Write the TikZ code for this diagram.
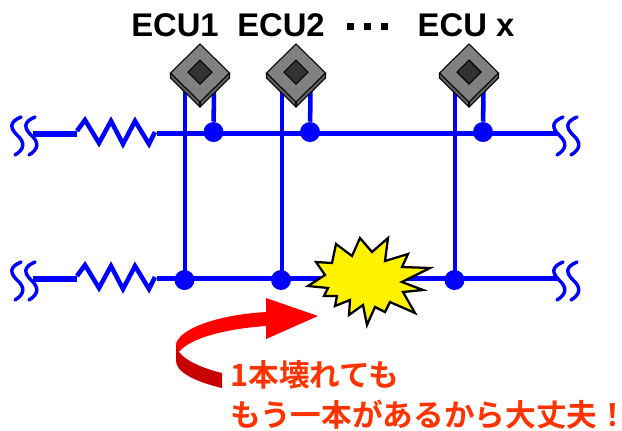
\documentclass[tikz,border=0pt]{standalone}
\usepackage{fontspec}
\setmainfont{Liberation Sans}
\newfontfamily\cjkjp{Noto Sans CJK JP}[BoldFont={Noto Sans CJK JP Bold}]
\usetikzlibrary{calc}
\definecolor{busblue}{RGB}{0,0,255}
\definecolor{chipgray}{RGB}{128,128,128}
\definecolor{chipside}{RGB}{95,95,95}
\definecolor{chipcore}{RGB}{51,51,51}
\definecolor{msgred}{RGB}{255,51,0}
\tikzset{
  bus/.style={draw=busblue,line width=3.8pt},
  stub/.style={draw=busblue,line width=3.4pt},
  breakmark/.style={draw=busblue,line width=2.6pt,line cap=round},
  junction/.style={circle,fill=busblue,minimum size=15pt,inner sep=0pt},
  ecutext/.style={font=\fontsize{24.6}{25}\selectfont\bfseries,inner sep=0pt,anchor=base},
  msg/.style={font=\cjkjp\fontsize{23}{24}\selectfont\bfseries,text=msgred,inner sep=0pt,anchor=base west},
  chipline/.style={draw=black,line width=0.8pt,line join=miter},
}
\newcommand{\breakpair}[2]{%
  \draw[breakmark] (#1+8,#2-17) .. controls (#1-4,#2-12) and (#1-3,#2-6) .. (#1+4,#2+1) .. controls (#1+12,#2+8) and (#1+12,#2+15) .. (#1+2,#2+21);
  \draw[breakmark] (#1+22,#2-17) .. controls (#1+10,#2-12) and (#1+11,#2-6) .. (#1+18,#2+1) .. controls (#1+26,#2+8) and (#1+26,#2+15) .. (#1+16,#2+21);
}
\newcommand{\zigzag}[1]{%
  \draw[bus,line width=3.4pt,line join=miter] (77,#1-3) -- (85,#1-14) -- (99,#1+9) -- (111,#1-13) -- (123,#1+10) -- (135,#1-13) -- (149,#1+10) -- (155,#1-2);
}
\newcommand{\chip}[2]{%
  \fill[chipside] (#1-29.5,#2) -- (#1,#2+29) -- (#1+29.5,#2) -- (#1+29.5,#2+5) -- (#1,#2+34) -- (#1-29.5,#2+5) -- cycle;
  \draw[chipline] (#1-29.5,#2) -- (#1-29.5,#2+5) -- (#1,#2+34) -- (#1+29.5,#2+5) -- (#1+29.5,#2);
  \draw[chipline] (#1,#2+29) -- (#1,#2+34);
  \draw[chipline,fill=chipgray] (#1-29.5,#2) -- (#1,#2-29) -- (#1+29.5,#2) -- (#1,#2+29) -- cycle;
  \draw[chipline,fill=chipcore] (#1-12,#2-1) -- (#1,#2-13) -- (#1+12,#2-1) -- (#1,#2+11) -- cycle;
}
\begin{document}
\begin{tikzpicture}[x=0.75pt,y=-0.75pt]
\useasboundingbox (0,0) rectangle (622,430);
% named points on the two buses
\coordinate (tl) at (33,134);
\coordinate (tr1) at (77,134);
\coordinate (tr2) at (157,133.5);
\coordinate (te) at (557,133.5);
\coordinate (bl) at (33,279);
\coordinate (br1) at (77,279);
\coordinate (br2) at (157,278.5);
\coordinate (be) at (557,278.5);
\coordinate (c1) at (185,90);
\coordinate (c2) at (282,90);
\coordinate (c3) at (455,90);
\coordinate (s1) at (214,90);
\coordinate (s2) at (310.5,90);
\coordinate (s3) at (483.5,90);
\node[junction] (j1) at (213.5,132) {};
\node[junction] (j2) at (310,132) {};
\node[junction] (j3) at (483,132) {};
\node[junction] (k1) at (184.5,280) {};
\node[junction] (k2) at (281,280) {};
\node[junction] (k3) at (454.5,280) {};
% wires
\draw[bus] (tl) -- (tr1);
\draw[bus] (tr2) -- (te);
\draw[bus] (bl) -- (br1);
\draw[bus] (br2) -- (be);
\draw[stub] (c1) -- (c1 |- k1);
\draw[stub] (c2) -- (c2 |- k2);
\draw[stub] (c3) -- (c3 |- k3);
\draw[stub] (s1) -- (j1);
\draw[stub] (s2) -- (j2);
\draw[stub] (s3) -- (j3);
\zigzag{134}
\zigzag{279}
\breakpair{13}{134}
\breakpair{13}{279}
\breakpair{555}{134}
\breakpair{555}{279}
% ECUs
\chip{200}{73}
\chip{296}{73}
\chip{469}{73}
\node[ecutext] (e1) at (175,36.5) {ECU1};
\node[ecutext] (e2) at (281,36.5) {ECU2};
\node[ecutext] (ex) at (466,36.5) {ECU x};
\fill (347,23) rectangle (354,30);
\fill (364,23) rectangle (371,30);
\fill (381,23) rectangle (388,30);
% burst
\draw[draw=black,fill=yellow,line width=1.7pt,line join=miter,miter limit=10]
 (308,286) -- (325,275) -- (316,262) -- (332,263) -- (336,244) -- (352,256) -- (360,238) -- (372,252) -- (388,238) -- (385,261) -- (408,254) -- (402,267) -- (430,268) -- (402,282) -- (423,290) -- (403,292) -- (415,313) -- (390,302) -- (385,312) -- (375,307) -- (367,325) -- (363,305) -- (349,315) -- (350,300) -- (335,306) -- (337,296) -- (324,296) -- (328,288) -- cycle;
% curved arrow
\shade[bottom color=red!78!black,top color=red!80!black,shading angle=0]
 (176,343) .. controls (175,332) and (177,350) .. (179,352)
 .. controls (186,361) and (202,368) .. (222,373)
 -- (222,388) .. controls (196,382) and (175,372) .. (176,360) -- cycle;
\fill[red] (266,298) -- (318,316) -- (266,339) -- (266,326)
 .. controls (225,329) and (190,338) .. (179,352)
 -- (176,346) .. controls (176,330) and (215,315) .. (266,312) -- cycle;
% message
\node[msg] (m1) at (230,386) {1本壊れても};
\node[msg] (m2) at (230,426) {もう一本があるから大丈夫！\kern-0.3em};
\end{tikzpicture}
\end{document}
